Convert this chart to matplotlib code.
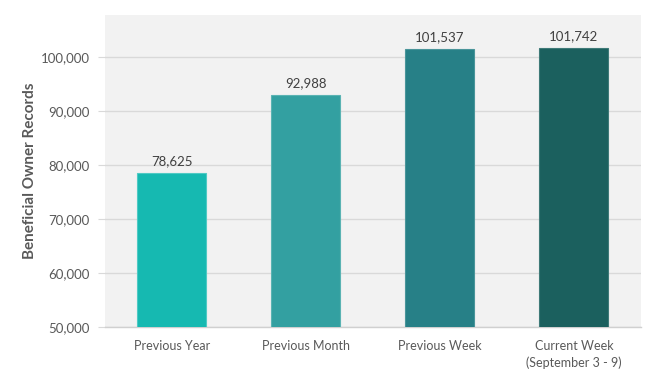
import matplotlib.pyplot as plt
from matplotlib.ticker import FuncFormatter

# data
categories = ["Previous Year", "Previous Month", "Previous Week", "Current Week\n(September 3 - 9)"]
records = [78625, 92988, 101537, 101742]
bar_colors = ["#16b9b1", "#33a0a1", "#278087", "#1b605e"]
edge_colors = ["#4fcac4", "#5ab3b3", "#4a959a", "#3f7a78"]

text_color = "#595959"
plt.rcParams['font.family'] = ['Lato', 'DejaVu Sans']

fig = plt.figure(figsize=(6.56, 3.79), dpi=100)
ax = fig.add_axes([0.160, 0.137, 0.817, 0.823])
ax.set_facecolor("#f2f2f2")

x = range(len(categories))
bars = ax.bar(x, records, width=0.515, color=bar_colors, edgecolor=edge_colors,
              linewidth=0.8, zorder=3)

for i, v in enumerate(records):
    ax.annotate(f"{v:,}", (i, v), xytext=(0, 4), textcoords="offset points",
                ha="center", va="bottom", fontsize=9.5, color="#404040")

ax.set_ylim(50000, 107800)
ax.set_xlim(-0.5, len(categories) - 0.5)
ax.set_yticks(range(50000, 100001, 10000))
ax.yaxis.set_major_formatter(FuncFormatter(lambda v, p: f"{int(v):,}"))
ax.grid(axis="y", color="#d9d9d9", linewidth=1, zorder=0)
ax.set_axisbelow(True)

ax.set_xticks(list(x))
ax.set_xticklabels(categories, linespacing=1.45)
ax.tick_params(axis="x", length=0, pad=9, labelsize=9, labelcolor=text_color)
ax.tick_params(axis="y", length=5, color="#d9d9d9", pad=6, labelsize=9.5, labelcolor=text_color)

for s in ["top", "right", "left"]:
    ax.spines[s].set_visible(False)
ax.spines["bottom"].set_color("#d0d0d0")
ax.spines["bottom"].set_linewidth(1)

ax.set_ylabel("Beneficial Owner Records", fontsize=11, fontweight="bold",
              color=text_color, labelpad=3)

fig.savefig("out.png", dpi=100)
